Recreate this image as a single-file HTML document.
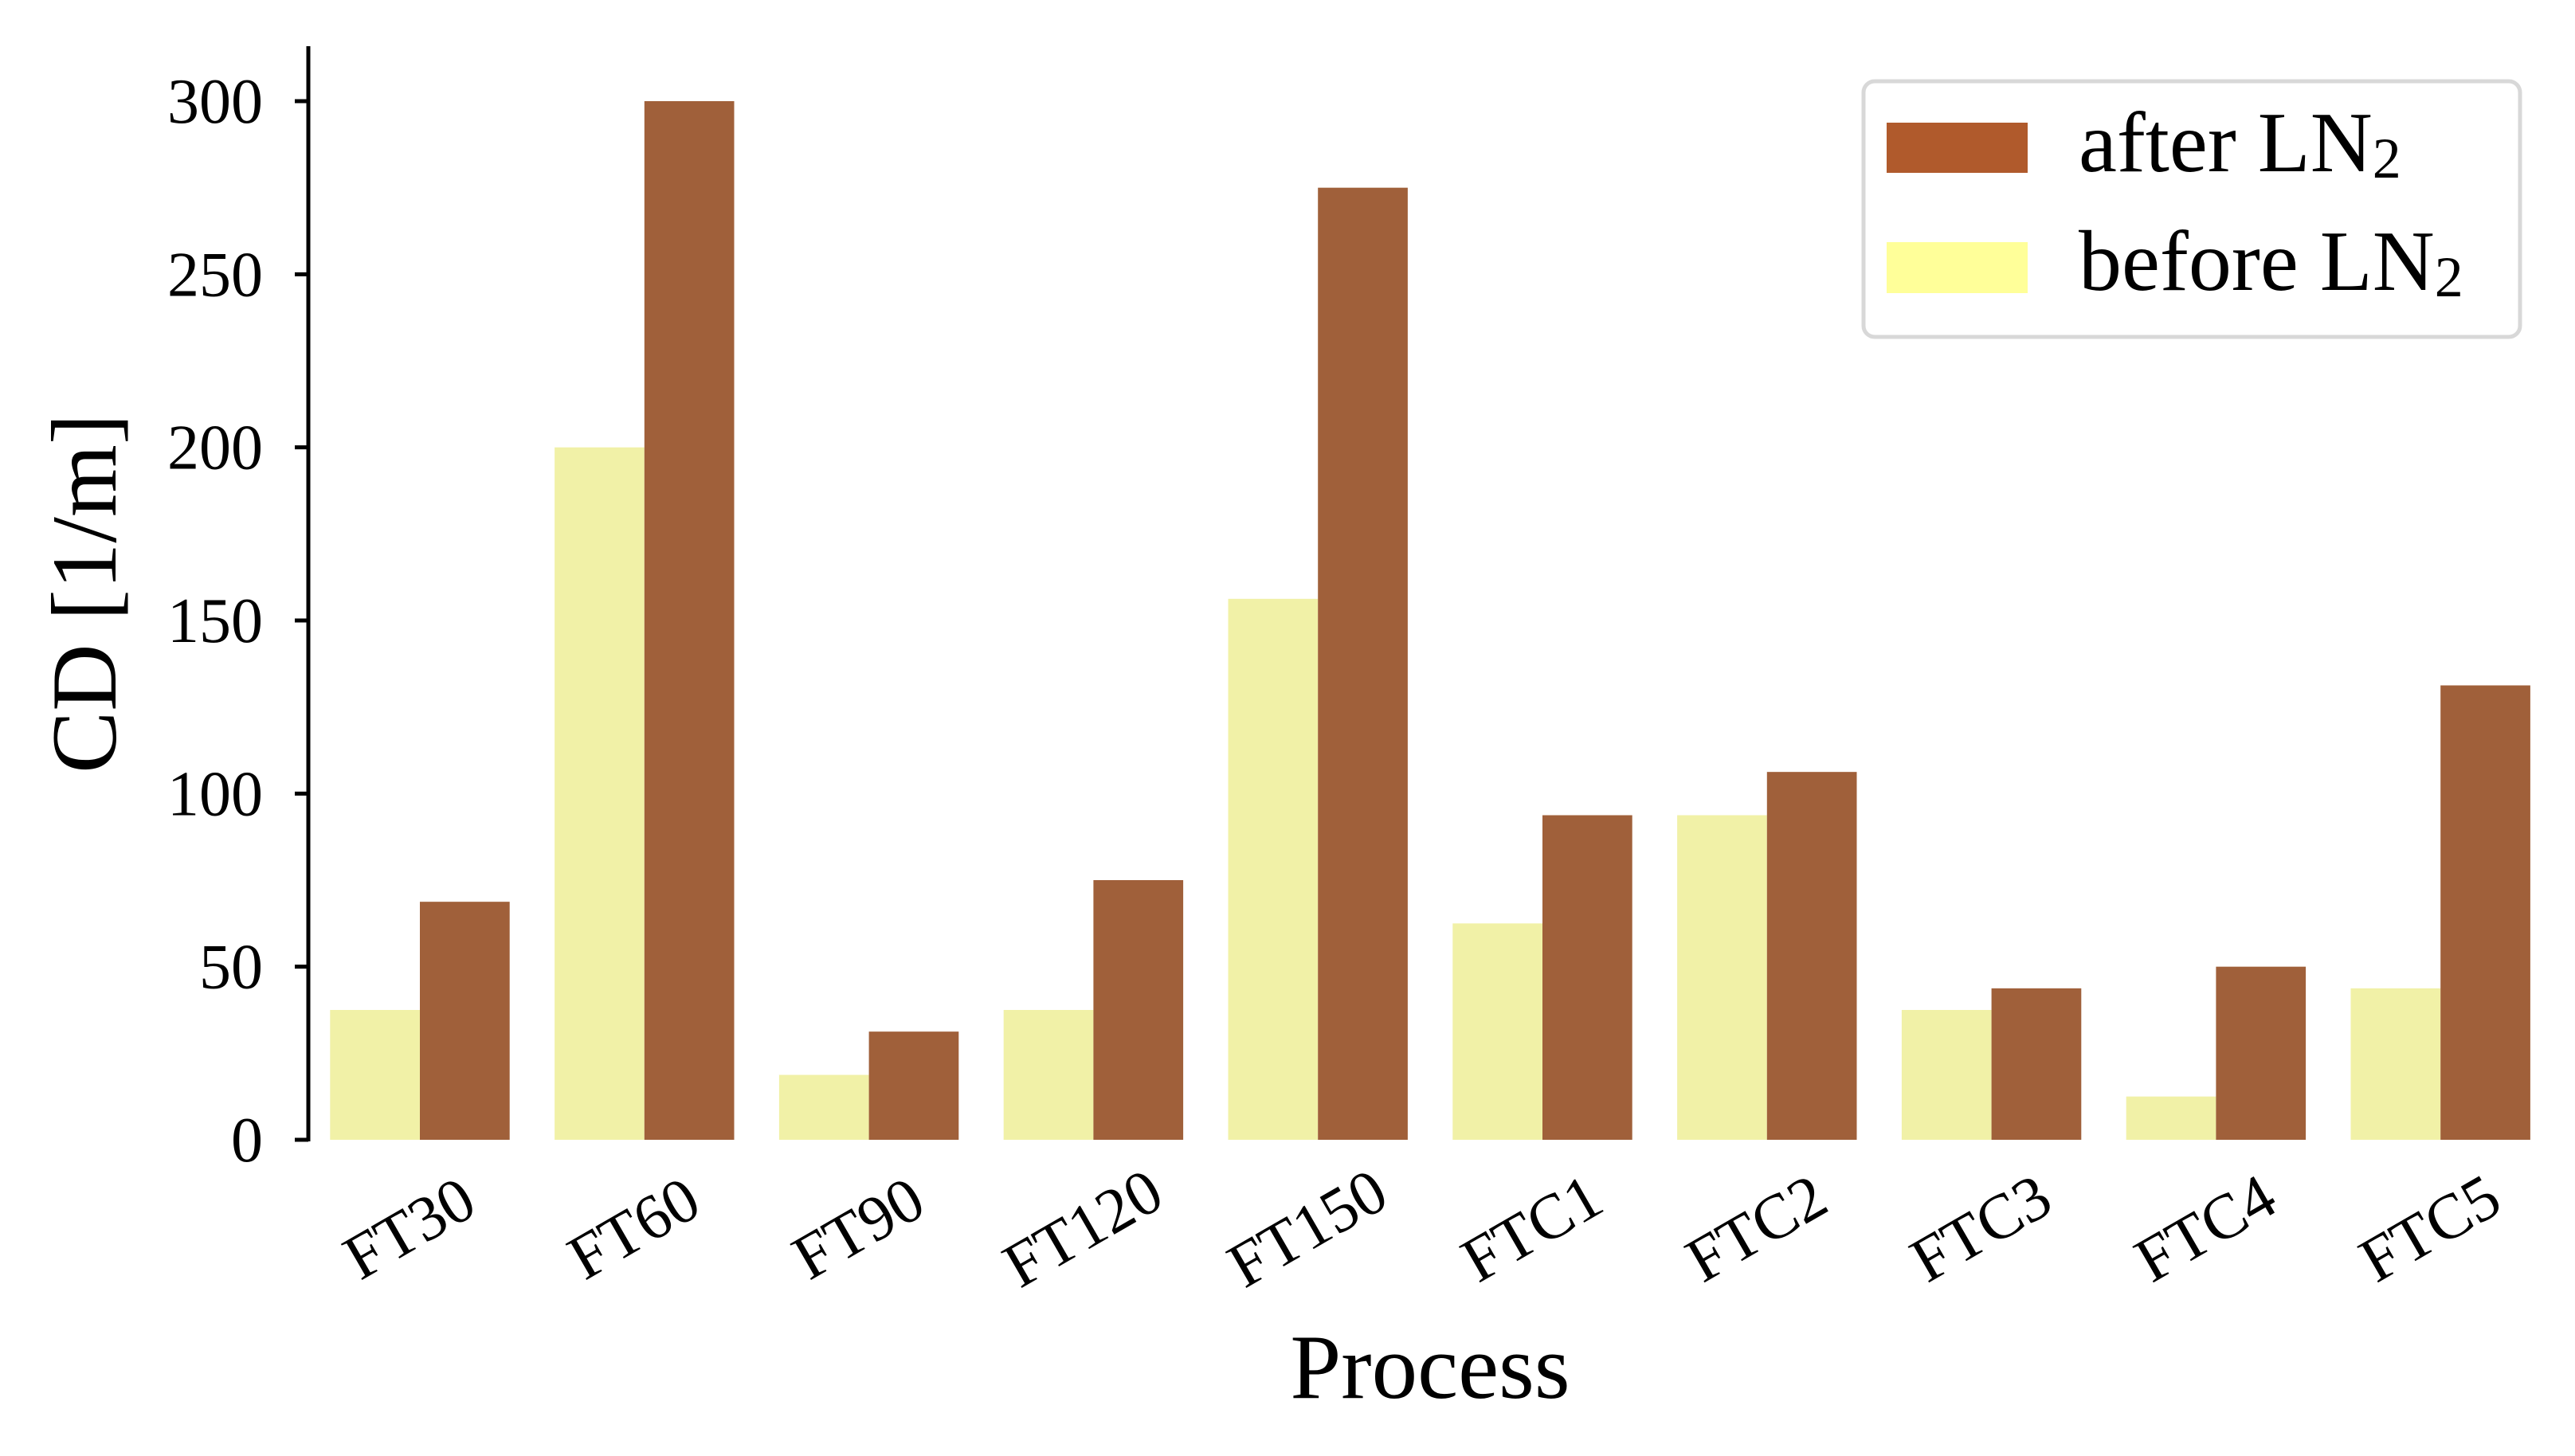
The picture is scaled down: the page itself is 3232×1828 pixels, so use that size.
<!DOCTYPE html>
<html><head><meta charset="utf-8"><style>
html,body{margin:0;padding:0;background:#fff}
svg text{font-family:"Liberation Serif",serif;fill:#000}
</style></head><body>
<svg id="chart" width="3232" height="1823" viewBox="0 0 3232 1823" xmlns="http://www.w3.org/2000/svg">
<g id="bars"></g>
<g id="axes"></g>
<text x="0" y="0" font-size="117" text-anchor="middle" transform="translate(145,745) rotate(-90)">CD [1/m]</text>
<text x="1795" y="1755" font-size="115" text-anchor="middle">Process</text>
<g>
<rect x="2339" y="102" width="824" height="321" rx="14" fill="#fff" stroke="#d8d8d8" stroke-width="5"/>
<rect x="2368" y="154" width="177" height="63" fill="#b05a2c"/>
<text x="2609" y="215" font-size="108">after LN<tspan font-size="72" dy="8">2</tspan></text>
<rect x="2368" y="304" width="177" height="64" fill="#ffff99"/>
<text x="2609" y="364" font-size="108">before LN<tspan font-size="72" dy="8">2</tspan></text>
</g>
</svg>
<script>
const categories=["FT30","FT60","FT90","FT120","FT150","FTC1","FTC2","FTC3","FTC4","FTC5"];
const beforeValues=[37.5,200,18.75,37.5,156.25,62.5,93.75,37.5,12.5,43.75];
const afterValues=[68.75,300,31.25,75,275,93.75,106.25,43.75,50,131.25];
const yTicks=[0,50,100,150,200,250,300];

const NS="http://www.w3.org/2000/svg";
const y0=1431,yPer=(1431-127)/300;
const yScale=v=>y0-v*yPer;
const xCenter=i=>527+i*281.8;
const bw=112.7;
const bars=document.getElementById('bars');
const axes=document.getElementById('axes');
function mk(tag,attrs,parent){const e=document.createElementNS(NS,tag);for(const k in attrs)e.setAttribute(k,attrs[k]);parent.appendChild(e);return e;}
categories.forEach((c,i)=>{
  const cx=xCenter(i);
  const b=mk('rect',{x:cx-bw,y:yScale(beforeValues[i]),width:bw,height:yScale(0)-yScale(beforeValues[i]),fill:'#f1f1a7'},bars);
  
  
  const a=mk('rect',{x:cx,y:yScale(afterValues[i]),width:bw,height:yScale(0)-yScale(afterValues[i]),fill:'#a0603a'},bars);
  
  
  const t=mk('text',{x:0,y:0,'font-size':80,'text-anchor':'middle',transform:`translate(${cx},${1565}) rotate(-30)`},axes);
  t.textContent=c;
  
  
});
const sp=mk('line',{x1:387,y1:58,x2:387,y2:1433,stroke:'#000','stroke-width':5},axes);


yTicks.forEach(v=>{
  const y=yScale(v);
  const tk=mk('line',{x1:370,y1:y,x2:387,y2:y,stroke:'#000','stroke-width':5},axes);
  
  
  const tl=mk('text',{x:330,y:y+27,'font-size':80,'text-anchor':'end'},axes);
  tl.textContent=v;
  
  
});
</script>
</body></html>
